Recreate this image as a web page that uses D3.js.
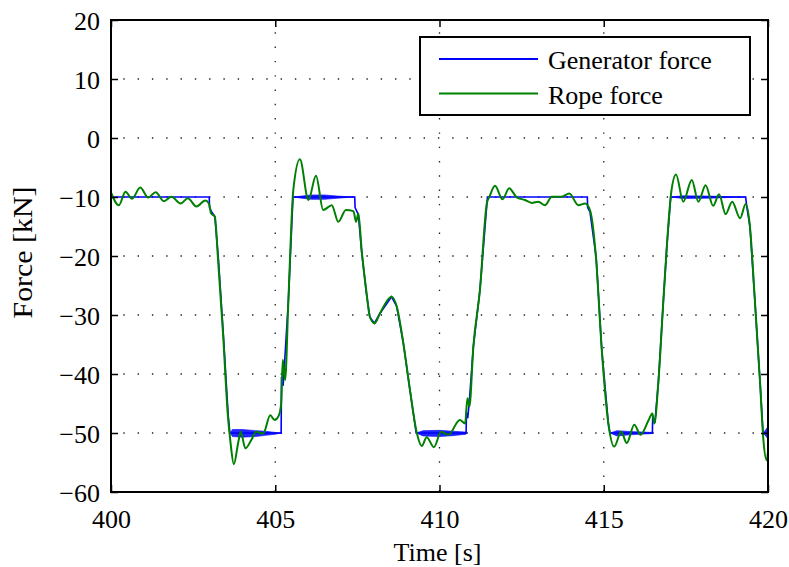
<!DOCTYPE html>
<html>
<head>
<meta charset="utf-8">
<script src="https://cdn.jsdelivr.net/npm/d3@7"></script>
<style>
    body { margin: 0; background: #fff; }
    svg text { font-family: "Liberation Serif", "Times New Roman", serif !important; fill: #000; }
</style>
</head>
<body>
<div class="chart__container"></div>
<script>
/*---------------------------Data---------------------------*/

const X_TICKS = [400, 405, 410, 415, 420];
const Y_TICKS = [20, 10, 0, -10, -20, -30, -40, -50, -60];
const SERIES_NAMES = ["Generator force", "Rope force"];

// rope force (green)
const ropeTime = [
    400.00, 400.24, 400.44, 400.64, 400.89, 401.13, 401.36, 401.61, 401.84, 402.12,
    402.34, 402.60, 402.87, 402.98, 403.05, 403.16, 403.26, 403.41, 403.56, 403.64,
    403.74, 403.87, 403.95, 404.09, 404.27, 404.42, 404.63, 404.85, 404.98, 405.11,
    405.18, 405.23, 405.30, 405.40, 405.55, 405.75, 406.01, 406.24, 406.46, 406.72,
    406.92, 407.15, 407.38, 407.46, 407.53, 407.63, 407.78, 407.88, 408.02, 408.19,
    408.54, 408.70, 408.90, 409.10, 409.31, 409.46, 409.61, 409.83, 410.05, 410.27,
    410.62, 410.78, 410.85, 410.91, 411.03, 411.23, 411.44, 411.52, 411.69, 411.92,
    412.12, 412.35, 412.60, 412.81, 413.01, 413.21, 413.42, 413.72, 413.95, 414.23,
    414.43, 414.58, 414.76, 414.94, 415.14, 415.32, 415.53, 415.70, 415.93, 416.12,
    416.36, 416.48, 416.54, 416.66, 416.81, 416.92, 417.05, 417.20, 417.42, 417.68,
    417.88, 418.10, 418.33, 418.51, 418.71, 418.91, 419.15, 419.32, 419.45, 419.60,
    419.76, 419.86, 419.96, 420.00
];
const ropeForce = [
    -9.2, -11.4, -9.1, -10.3, -8.4, -10.1, -9.2, -10.7, -9.95, -11.1,
    -10.2, -11.6, -10.6, -11.1, -12.8, -13.3, -20.7, -33.1, -47.2, -51.7,
    -55.3, -51.7, -49.8, -52.6, -51.2, -49.8, -50.1, -47.0, -47.8, -47.0,
    -45.0, -37.6, -41.0, -27.5, -8.8, -3.6, -10.5, -6.4, -12.2, -11.4,
    -14.2, -12.2, -12.4, -14.2, -12.8, -19.0, -26.3, -30.3, -31.4, -29.7,
    -26.9, -28.6, -34.8, -42.7, -50.0, -52.2, -50.7, -52.4, -49.8, -50.3,
    -47.8, -48.4, -44.1, -45.5, -35.4, -25.8, -11.1, -9.95, -8.1, -10.4,
    -8.5, -10.05, -10.5, -11.0, -10.8, -11.4, -9.95, -9.95, -9.4, -11.4,
    -11.1, -12.2, -20.0, -35.9, -48.4, -52.3, -49.8, -51.7, -48.6, -50.3,
    -47.9, -46.7, -48.4, -41.6, -28.0, -18.4, -9.4, -6.2, -10.8, -7.1,
    -10.8, -8.0, -11.5, -9.55, -12.9, -10.8, -13.6, -11.2, -15.0, -27.5,
    -41.6, -51.2, -54.6, -53.2
];

// generator force (blue)
const genTime = [
    400.00, 402.99, 403.00, 403.06, 403.16, 403.27, 403.42, 403.57, 403.62, 405.18,
    405.19, 405.24, 405.28, 405.40, 405.54, 407.42, 407.43, 407.53, 407.63, 407.78,
    407.88, 408.02, 408.19, 408.54, 408.70, 408.90, 409.10, 409.29, 410.81, 410.82,
    410.86, 410.91, 411.03, 411.23, 411.46, 414.50, 414.51, 414.58, 414.77, 414.94,
    415.14, 415.19, 416.48, 416.49, 416.56, 416.66, 416.81, 416.92, 417.04, 419.32,
    419.35, 419.45, 419.60, 419.76, 419.85, 420.00
];
const genForce = [
    -10, -10, -11.8, -12.5, -13.3, -20.5, -33.3, -47.2, -50, -50,
    -40.5, -42.0, -38.5, -27.5, -10, -10, -11.8, -13.0, -19.3, -26.5,
    -30.4, -31.4, -29.7, -26.9, -28.6, -34.8, -42.7, -50, -50, -46.5,
    -47.5, -44.5, -35.4, -25.8, -10, -10, -11.8, -12.5, -20.3, -35.9,
    -48.4, -50, -50, -47.5, -48.0, -41.6, -28.0, -18.4, -10, -10,
    -11.5, -15.0, -27.5, -41.6, -50, -50
];

// chatter band on the generator force (NaN splits the bands)
const chatterTime = [
    403.62, 403.70, 404.00, 404.40, 404.70, 405.00, 405.18, NaN,
    405.55, 405.80, 406.10, 406.50, 406.90, 407.42, NaN,
    409.29, 409.50, 410.00, 410.40, 410.81, NaN,
    415.19, 415.40, 415.80, 416.48, NaN,
    417.04, 417.40, 418.20, 419.32, NaN,
    419.86, 420.00
];
const chatterHigh = [
    -50, -49.4, -49.4, -49.6, -49.7, -49.9, -50, NaN,
    -10, -9.85, -9.65, -9.65, -9.85, -10, NaN,
    -50, -49.6, -49.55, -49.7, -49.85, NaN,
    -50, -49.6, -49.75, -49.9, NaN,
    -10, -9.8, -9.85, -10, NaN,
    -50, -48.9
];
const chatterLow = [
    -50, -50.6, -50.7, -50.6, -50.4, -50.2, -50, NaN,
    -10, -10.2, -10.4, -10.4, -10.2, -10, NaN,
    -50, -50.5, -50.6, -50.45, -50.2, NaN,
    -50, -50.5, -50.3, -50.1, NaN,
    -10, -10.25, -10.2, -10, NaN,
    -50, -51.0
];

/*---------------------------Init---------------------------*/

const CHART__WIDTH = 789;
const CHART__HEIGHT = 567;
const MARGIN = { top: 20, right: 21, bottom: 75, left: 111 };
const COLOR = { gen: "#0000ff", rope: "#008000", grid: "#222" };
const FONT = '"Liberation Serif", "Times New Roman", serif';
const FONT_SIZE = 26;

const svg = d3.select(".chart__container").append("svg")
    .attr("width", CHART__WIDTH)
    .attr("height", CHART__HEIGHT)
    .attr("font-family", FONT);

const xScale = d3.scaleLinear().domain([400, 420]).range([MARGIN.left, CHART__WIDTH - MARGIN.right]);
const yScale = d3.scaleLinear().domain([-60, 20]).range([CHART__HEIGHT - MARGIN.bottom, MARGIN.top]);

const x0 = xScale.range()[0], x1 = xScale.range()[1];
const y0 = yScale.range()[1], y1 = yScale.range()[0];

//grid

const grid = svg.append("g").attr("class", "grid");

grid.selectAll(".vgrid")
    .data(X_TICKS.slice(1, -1))
    .enter().append("line")
    .attr("x1", d => xScale(d)).attr("x2", d => xScale(d))
    .attr("y1", y0).attr("y2", y1);

grid.selectAll(".hgrid")
    .data(Y_TICKS.slice(1, -1))
    .enter().append("line")
    .attr("y1", d => yScale(d)).attr("y2", d => yScale(d))
    .attr("x1", x0).attr("x2", x1);

grid.selectAll("line")
    .attr("stroke", COLOR.grid)
    .attr("stroke-width", 1.3)
    .attr("stroke-dasharray", "1.4,12.9")
    .attr("stroke-dashoffset", 2);

//series

const genData = genTime.map((t, i) => ({ t, v: genForce[i] }));
const ropeData = ropeTime.map((t, i) => ({ t, v: ropeForce[i] }));
const chatterData = chatterTime.map((t, i) => ({ t, hi: chatterHigh[i], lo: chatterLow[i] }));

svg.append("path")
    .datum(chatterData)
    .attr("fill", COLOR.gen)
    .attr("fill-opacity", 0.85)
    .attr("stroke", COLOR.gen)
    .attr("stroke-width", 0.6)
    .attr("d", d3.area()
        .defined(d => !isNaN(d.t))
        .x(d => xScale(d.t))
        .y0(d => yScale(d.lo))
        .y1(d => yScale(d.hi)));

svg.append("path")
    .datum(genData)
    .attr("fill", "none")
    .attr("stroke", COLOR.gen)
    .attr("stroke-width", 1.6)
    .attr("d", d3.line().x(d => xScale(d.t)).y(d => yScale(d.v)));

svg.append("path")
    .datum(ropeData)
    .attr("fill", "none")
    .attr("stroke", COLOR.rope)
    .attr("stroke-width", 2)
    .attr("stroke-linejoin", "round")
    .attr("d", d3.line().curve(d3.curveMonotoneX).x(d => xScale(d.t)).y(d => yScale(d.v)));

//axes (ticks pointing inward, box on)

const styleAxis = g => {
    g.attr("font-family", FONT).attr("font-size", FONT_SIZE);
    g.select(".domain").remove();
    g.selectAll(".tick line").attr("stroke", "#000").attr("stroke-width", 1.5);
    g.selectAll(".tick text").attr("fill", "#000").style("font-family", FONT);
};

svg.append("g")
    .attr("transform", `translate(0,${y1})`)
    .call(d3.axisBottom(xScale).tickValues(X_TICKS).tickSize(-7).tickPadding(17.5))
    .call(styleAxis);

svg.append("g")
    .attr("transform", `translate(0,${y0})`)
    .call(d3.axisTop(xScale).tickValues(X_TICKS).tickSize(-7).tickFormat(""))
    .call(styleAxis);

svg.append("g")
    .attr("transform", `translate(${x0},0)`)
    .call(d3.axisLeft(yScale).tickValues(Y_TICKS).tickSize(-7).tickPadding(11))
    .call(styleAxis)
    .call(g => g.selectAll(".tick text").attr("dy", "0.38em"));

svg.append("g")
    .attr("transform", `translate(${x1},0)`)
    .call(d3.axisRight(yScale).tickValues(Y_TICKS).tickSize(-7).tickFormat(""))
    .call(styleAxis);

svg.append("rect")
    .attr("x", x0).attr("y", y0)
    .attr("width", x1 - x0).attr("height", y1 - y0)
    .attr("fill", "none")
    .attr("stroke", "#000")
    .attr("stroke-width", 2);

//axis labels

svg.append("text")
    .attr("x", (x0 + x1) / 2 - 2)
    .attr("y", 561)
    .attr("text-anchor", "middle")
    .attr("font-size", FONT_SIZE)
    .text("Time [s]");

svg.append("text")
    .attr("transform", `translate(32,${(y0 + y1) / 2 - 3.5}) rotate(-90)`)
    .attr("text-anchor", "middle")
    .attr("font-size", 27)
    .attr("textLength", 132)
    .attr("lengthAdjust", "spacingAndGlyphs")
    .text("Force [kN]");

//legend

const legend = svg.append("g");

legend.append("rect")
    .attr("x", 420).attr("y", 37)
    .attr("width", 330).attr("height", 78)
    .attr("fill", "#fff")
    .attr("stroke", "#000")
    .attr("stroke-width", 2);

const legendRows = legend.selectAll(".row")
    .data(SERIES_NAMES)
    .enter().append("g")
    .attr("transform", (d, i) => `translate(0,${59 + i * 34.5})`);

legendRows.append("line")
    .attr("x1", 439).attr("x2", 538)
    .attr("stroke", (d, i) => i === 0 ? COLOR.gen : COLOR.rope)
    .attr("stroke-width", 2);

legendRows.append("text")
    .attr("x", 548)
    .attr("y", 10)
    .attr("font-size", FONT_SIZE)
    .text(d => d);
</script>
</body>
</html>
